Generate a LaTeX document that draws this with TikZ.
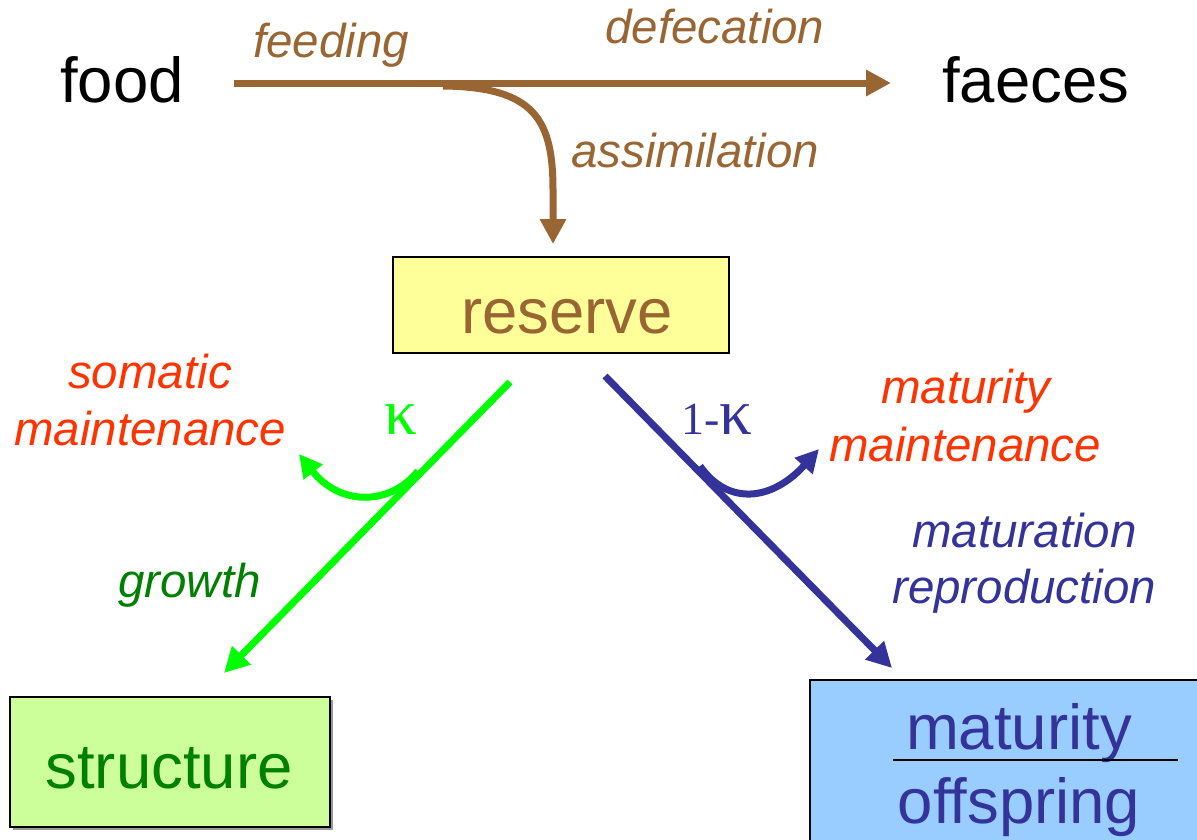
\documentclass[tikz,border=0pt]{standalone}
\usepackage{fontspec}
\setmainfont{Liberation Sans}
\newfontfamily\kapfont{Liberation Serif}
\usetikzlibrary{arrows.meta,shadows}
\definecolor{brownflow}{HTML}{996633}
\definecolor{kapgreen}{HTML}{00FF00}
\definecolor{darkgreen}{HTML}{008000}
\definecolor{maintred}{HTML}{FF3300}
\definecolor{matblue}{HTML}{333399}
\definecolor{resfill}{HTML}{FFFF99}
\definecolor{strucfill}{HTML}{CCFF99}
\definecolor{matfill}{HTML}{99CCFF}
\newcommand{\kapsym}{{\fontsize{65}{68}\selectfont κ}}
\tikzset{
  big/.style={font=\fontsize{63.5}{70}\selectfont, inner sep=0pt},
  lab/.style={font=\fontsize{47.5}{52}\selectfont\itshape, inner sep=0pt},
  kap/.style={font=\kapfont\fontsize{46}{50}\selectfont, inner sep=0pt},
  flow/.style={line width=7pt, -{Triangle[length=25pt,width=25pt]}},
  sideflow/.style={line width=7pt, -{Triangle[length=23pt,width=23pt]}},
  poolbox/.style={draw=black, line width=2pt, inner sep=0pt},
  shade/.style={drop shadow={shadow xshift=3pt, shadow yshift=-3pt, fill=black!40, opacity=1}}
}
\begin{document}
\begin{tikzpicture}[x=1pt,y=-1pt]
\useasboundingbox (0,0) rectangle (1197,839);

% top line: food -> faeces
\node[big, anchor=base west] (food) at (60,102) {food};
\node[big, anchor=base west] (faeces) at (942,102) {faeces};
\node[lab, anchor=base west, text=brownflow] (feeding) at (253,57) {feeding};
\node[lab, anchor=base west, text=brownflow] (defec) at (605,43) {defecation};
\node[lab, anchor=base west, text=brownflow] (assim) at (571,167) {assimilation};

% pools
\node[poolbox, fill=resfill, minimum width=336pt, minimum height=96pt] (reserve) at (561,305) {};
\node[big, anchor=base, text=brownflow] (restext) at (567,333) {reserve};

\node[poolbox, fill=strucfill, shade, minimum width=320pt, minimum height=130pt] (structure) at (170,762) {};
\node[big, anchor=base, text=darkgreen] (structext) at (169,788) {structure};

\node[poolbox, fill=matfill, shade, minimum width=400pt, minimum height=170pt] (maturity) at (1010,765) {};
\node[big, anchor=base, text=matblue] (mattext) at (1019,749) {maturity};
\node[big, anchor=base, text=matblue] (offtext) at (1019,823) {offspring};
\coordinate (barL) at (893,760);
\coordinate (barR) at (1178,760);
\draw[line width=2pt] (barL) -- (barR);

% brown flows
\coordinate (feedL) at (234,83);
\coordinate (feedR) at (891,83);
\coordinate (assimS) at (443,86);
\coordinate (assimE) at (553,244);
\draw[flow, brownflow] (feedL) -- (feedR);
\draw[flow, brownflow, line cap=butt] (assimS) .. controls (535,87) and (553,120) .. (553,190) -- (assimE);

% kappa branch
\coordinate (kS) at (510,382);
\coordinate (kE) at (224,673);
\draw[flow, kapgreen] (kS) -- (kE);
\coordinate (somS) at (418,471);
\coordinate (somE) at (299,454);
\draw[sideflow, kapgreen] (somS) .. controls (390,506) and (340,506) .. (somE);
\node[kap, anchor=base, text=kapgreen] (kappa) at (401,434) {\kapsym};
\node[lab, anchor=base west, text=maintred] (somat1) at (68,388) {somatic};
\node[lab, anchor=base west, text=maintred] (somat2) at (14,445) {maintenance};
\node[lab, anchor=base west, text=darkgreen] (growth) at (118,597) {growth};

% 1-kappa branch
\coordinate (jS) at (605,376);
\coordinate (jE) at (892,668);
\draw[flow, matblue] (jS) -- (jE);
\coordinate (matmS) at (700,466);
\coordinate (matmE) at (819,449);
\draw[sideflow, matblue] (matmS) .. controls (728,506) and (772,501) .. (matmE);
\node[kap, anchor=base west, text=matblue] (onekappa) at (681,434) {1-\kapsym};
\node[lab, anchor=base west, text=maintred] (matm1) at (881,403) {maturity};
\node[lab, anchor=base west, text=maintred] (matm2) at (829,461) {maintenance};
\node[lab, anchor=base west, text=matblue] (matr1) at (912,547) {maturation};
\node[lab, anchor=base west, text=matblue] (matr2) at (892,603) {reproduction};
\end{tikzpicture}
\end{document}
